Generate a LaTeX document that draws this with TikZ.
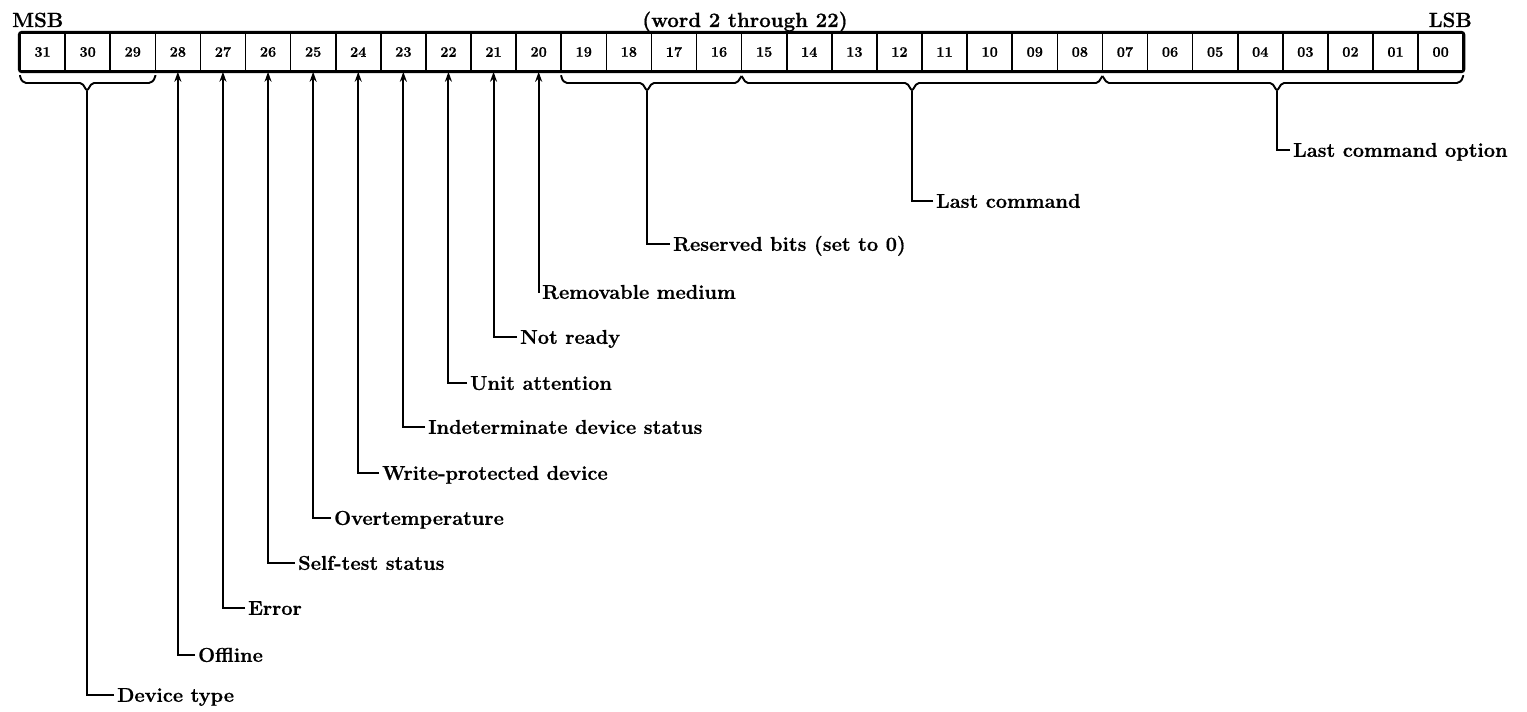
\documentclass[tikz,border=0pt]{standalone}
\usepackage{fontspec}
\setmainfont{Latin Modern Roman}[BoldFeatures={FakeBold=0.7}]
\usetikzlibrary{arrows.meta}
\begin{document}
\begin{tikzpicture}[x=1pt,y=-1pt,
  cell/.style={draw, line width=1.6pt, minimum width=45.1pt, minimum height=38pt,
               inner sep=0pt, font=\fontsize{14.5}{14.5}\selectfont\bfseries},
  lab/.style={anchor=west, inner xsep=3pt, inner ysep=0pt, text height=13.7pt,
              text depth=0pt, font=\fontsize{20}{20}\selectfont\bfseries},
  head/.style={inner sep=0pt, font=\fontsize{20.5}{20.5}\selectfont\bfseries},
  lead/.style={line width=2pt},
  ptr/.style={lead, -{Stealth[length=10pt,width=7pt]}},
  brace/.style={line width=1.9pt, rounded corners=2pt}]
\useasboundingbox (0,0) rectangle (1527,712);

% headings
\node[head, anchor=base west] (msb) at (12,27) {MSB};
\node[head, anchor=base east] (lsb) at (1472,27) {LSB};
\node[head, anchor=base] (word) at (745,27) {(word 2 through 22)};

% the 32 bit cells, MSB on the left
\foreach \i in {0,...,31}{
  \pgfmathtruncatemacro\b{31-\i}
  \ifnum\b<10 \edef\t{0\b}\else\edef\t{\b}\fi
  \node[cell] (c\b) at ({42.55+45.1*\i},52) {\t};
}
\draw[line width=2.6pt, rounded corners=2.5pt] (c31.north west) rectangle (c0.south east);

% braces under multi-bit fields
\coordinate (tdev) at (87,91);
\coordinate (tres) at (647,91);
\coordinate (tcmd) at (912,91);
\coordinate (topt) at (1277,91);
\draw[brace] (20,75) -- (20,78) -- (24,83) -- (82,83) -- (tdev) -- (92,83) -- (151,83) -- (155.3,78) -- (155.3,75);
\draw[brace] (561.2,75) -- (561.2,78) -- (565,83) -- (642,83) -- (tres) -- (652,83) -- (737,83) -- (741.6,76);
\draw[brace] (741.6,76) -- (746,83) -- (907,83) -- (tcmd) -- (917,83) -- (1098,83) -- (1102.4,76);
\draw[brace] (1102.4,76) -- (1107,83) -- (1272,83) -- (topt) -- (1282,83) -- (1459,83) -- (1463.2,78) -- (1463.2,75);

% field labels
\node[lab] (ldev) at (114,695) {Device type};
\node[lab] (l28) at (195,655) {Offline};
\node[lab] (l27) at (245,608) {Error};
\node[lab] (l26) at (295,563) {Self-test status};
\node[lab] (l25) at (331,518) {Overtemperature};
\node[lab] (l24) at (379,473) {Write-protected device};
\node[lab] (l23) at (425,427) {Indeterminate device status};
\node[lab] (l22) at (467,383) {Unit attention};
\node[lab] (l21) at (517,337) {Not ready};
\node[lab] (l20) at (539,292) {Removable medium};
\node[lab] (lres) at (670,244) {Reserved bits (set to 0)};
\node[lab] (lcmd) at (933,201) {Last command};
\node[lab] (lopt) at (1290,150) {Last command option};

% single-bit pointers
\foreach \b in {28,27,26,25,24,23,22,21,20}{
  \draw[ptr] (l\b.west) -| (c\b.south);
}
% field leaders
\draw[lead] (ldev.west) -| (tdev);
\draw[lead] (lres.west) -| (tres);
\draw[lead] (lcmd.west) -| (tcmd);
\draw[lead] (lopt.west) -| (topt);
\end{tikzpicture}
\end{document}
